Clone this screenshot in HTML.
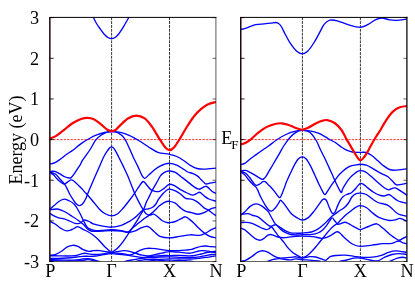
<!DOCTYPE html>
<html><head><meta charset="utf-8"><title>bands</title>
<style>
html,body{margin:0;padding:0;background:#fff;}
body{width:415px;height:291px;position:relative;overflow:hidden;font-family:"Liberation Serif",serif;color:#000;}
.t{position:absolute;white-space:nowrap;line-height:1;}
#lb{position:absolute;left:0;top:0;width:415px;height:291px;will-change:opacity;}
</style></head><body>
<svg width="415" height="291" viewBox="0 0 415 291" style="position:absolute;left:0;top:0"><clipPath id="cl"><rect x="49.80" y="17.30" width="166.10" height="243.90"/></clipPath><line x1="111.60" y1="17.30" x2="111.60" y2="261.20" stroke="#000" stroke-width="0.8" stroke-dasharray="2.9 0.95"/><line x1="169.50" y1="17.30" x2="169.50" y2="261.20" stroke="#000" stroke-width="0.8" stroke-dasharray="2.9 0.95"/><line x1="49.80" y1="139.60" x2="215.90" y2="139.60" stroke="#f00" stroke-width="0.8" stroke-dasharray="2.3 1.17"/><g clip-path="url(#cl)" fill="none" stroke-linecap="round" stroke-linejoin="round"><path d="M92.00 14.00 C92.22 14.55 92.55 15.72 93.30 17.30 C94.05 18.88 95.38 21.62 96.50 23.50 C97.62 25.38 98.75 26.85 100.00 28.60 C101.25 30.35 102.67 32.52 104.00 34.00 C105.33 35.48 106.73 36.73 108.00 37.50 C109.27 38.27 110.43 38.60 111.60 38.60 C112.77 38.60 113.85 38.23 115.00 37.50 C116.15 36.77 117.33 35.58 118.50 34.20 C119.67 32.82 121.00 30.73 122.00 29.20 C123.00 27.67 123.70 26.37 124.50 25.00 C125.30 23.63 126.07 22.28 126.80 21.00 C127.53 19.72 128.33 18.47 128.90 17.30 C129.47 16.13 129.98 14.55 130.20 14.00" stroke="#00f" stroke-width="1.35"/><path d="M49.80 164.00 C50.68 163.78 53.25 163.58 55.10 162.70 C56.95 161.82 58.97 160.10 60.90 158.70 C62.83 157.30 64.65 155.75 66.70 154.30 C68.75 152.85 70.80 151.78 73.20 150.00 C75.60 148.22 78.27 145.60 81.10 143.60 C83.93 141.60 87.48 139.48 90.20 138.00 C92.92 136.52 95.00 135.62 97.40 134.70 C99.80 133.78 102.23 133.02 104.60 132.50 C106.97 131.98 109.13 131.67 111.60 131.60 C114.07 131.53 116.48 131.48 119.40 132.10 C122.32 132.72 125.88 133.90 129.10 135.30 C132.32 136.70 135.50 138.58 138.70 140.50 C141.90 142.42 145.10 144.83 148.30 146.80 C151.50 148.77 154.37 151.05 157.90 152.30 C161.43 153.55 166.35 153.60 169.50 154.30 C172.65 155.00 174.38 155.42 176.80 156.50 C179.22 157.58 181.58 159.23 184.00 160.80 C186.42 162.37 189.13 164.62 191.30 165.90 C193.47 167.18 194.83 167.97 197.00 168.50 C199.17 169.03 201.15 169.17 204.30 169.10 C207.45 169.03 213.97 168.27 215.90 168.10" stroke="#00f" stroke-width="1.35"/><path d="M49.80 171.90 C50.78 172.28 54.08 173.10 55.70 174.20 C57.32 175.30 58.30 177.15 59.50 178.50 C60.70 179.85 62.02 181.42 62.90 182.30 C63.78 183.18 64.00 183.87 64.80 183.80 C65.60 183.73 66.78 182.52 67.70 181.90 C68.62 181.28 69.53 180.40 70.30 180.10 C71.07 179.80 71.52 179.80 72.30 180.10 C73.08 180.40 73.92 180.97 75.00 181.90 C76.08 182.83 77.52 184.42 78.80 185.70 C80.08 186.98 81.57 188.38 82.70 189.60 C83.83 190.82 84.90 192.22 85.60 193.00 C86.30 193.78 85.72 192.97 86.90 194.30 C88.08 195.63 90.53 198.43 92.70 201.00 C94.87 203.57 97.72 207.53 99.90 209.70 C102.08 211.87 103.85 212.98 105.80 214.00 C107.75 215.02 109.68 215.80 111.60 215.80 C113.52 215.80 115.38 215.27 117.30 214.00 C119.22 212.73 121.17 210.37 123.10 208.20 C125.03 206.03 126.97 203.52 128.90 201.00 C130.83 198.48 133.05 195.45 134.70 193.10 C136.35 190.75 137.38 188.83 138.80 186.90 C140.22 184.97 141.83 181.77 143.20 181.50 C144.57 181.23 145.73 183.95 147.00 185.30 C148.27 186.65 149.45 188.60 150.80 189.60 C152.15 190.60 153.65 191.02 155.10 191.30 C156.55 191.58 158.05 191.75 159.50 191.30 C160.95 190.85 162.55 189.52 163.80 188.60 C165.05 187.68 166.05 186.52 167.00 185.80 C167.95 185.08 168.35 184.37 169.50 184.30 C170.65 184.23 172.15 184.57 173.90 185.40 C175.65 186.23 178.18 188.23 180.00 189.30 C181.82 190.37 183.20 190.98 184.80 191.80 C186.40 192.62 188.23 193.65 189.60 194.20 C190.97 194.75 191.87 195.18 193.00 195.10 C194.13 195.02 195.35 194.18 196.40 193.70 C197.45 193.22 198.42 192.20 199.30 192.20 C200.18 192.20 200.73 192.97 201.70 193.70 C202.67 194.43 203.90 195.72 205.10 196.60 C206.30 197.48 207.10 198.23 208.90 199.00 C210.70 199.77 214.73 200.83 215.90 201.20" stroke="#00f" stroke-width="1.35"/><path d="M49.80 171.60 C50.62 171.55 53.08 170.95 54.70 171.30 C56.32 171.65 57.73 172.75 59.50 173.70 C61.27 174.65 63.67 176.28 65.30 177.00 C66.93 177.72 68.32 177.90 69.30 178.00 C70.28 178.10 70.42 178.23 71.20 177.60 C71.98 176.97 72.90 175.73 74.00 174.20 C75.10 172.67 76.75 170.00 77.80 168.40 C78.85 166.80 79.50 165.98 80.30 164.60 C81.10 163.22 81.02 162.53 82.60 160.10 C84.18 157.67 87.63 153.33 89.80 150.00 C91.97 146.67 93.73 142.57 95.60 140.10 C97.47 137.63 99.18 136.50 101.00 135.20 C102.82 133.90 104.73 132.90 106.50 132.30 C108.27 131.70 109.65 131.52 111.60 131.60 C113.55 131.68 116.10 131.72 118.20 132.80 C120.30 133.88 122.38 135.62 124.20 138.10 C126.02 140.58 127.58 144.52 129.10 147.70 C130.62 150.88 131.88 154.17 133.30 157.20 C134.72 160.23 136.17 162.88 137.60 165.90 C139.03 168.92 140.70 173.23 141.90 175.30 C143.10 177.37 143.58 178.42 144.80 178.30 C146.02 178.18 147.52 176.07 149.20 174.60 C150.88 173.13 153.10 170.90 154.90 169.50 C156.70 168.10 158.52 167.03 160.00 166.20 C161.48 165.37 162.20 164.98 163.80 164.50 C165.40 164.02 167.43 163.18 169.60 163.30 C171.77 163.42 174.40 164.17 176.80 165.20 C179.20 166.23 182.18 168.37 184.00 169.50 C185.82 170.63 186.28 171.35 187.70 172.00 C189.12 172.65 190.90 172.75 192.50 173.40 C194.10 174.05 195.85 174.85 197.30 175.90 C198.75 176.95 200.07 178.58 201.20 179.70 C202.33 180.82 203.22 181.88 204.10 182.60 C204.98 183.32 205.53 183.92 206.50 184.00 C207.47 184.08 208.33 183.42 209.90 183.10 C211.47 182.78 214.90 182.27 215.90 182.10" stroke="#00f" stroke-width="1.35"/><path d="M49.80 172.40 C50.45 172.85 52.40 173.92 53.70 175.10 C55.00 176.28 56.30 178.22 57.60 179.50 C58.90 180.78 60.30 181.95 61.50 182.80 C62.70 183.65 63.92 183.72 64.80 184.60 C65.68 185.48 65.90 186.37 66.80 188.10 C67.70 189.83 69.18 193.13 70.20 195.00 C71.22 196.87 71.90 197.85 72.90 199.30 C73.90 200.75 75.12 202.65 76.20 203.70 C77.28 204.75 78.32 205.60 79.40 205.60 C80.48 205.60 81.60 204.92 82.70 203.70 C83.80 202.48 85.05 200.27 86.00 198.30 C86.95 196.33 86.07 197.42 88.40 191.90 C90.73 186.38 97.35 171.22 100.00 165.20 C102.65 159.18 102.97 158.33 104.30 155.80 C105.63 153.27 107.05 151.37 108.00 150.00 C108.95 148.63 109.40 148.13 110.00 147.60 C110.60 147.07 111.07 146.80 111.60 146.80 C112.13 146.80 112.50 146.85 113.20 147.60 C113.90 148.35 114.87 149.70 115.80 151.30 C116.73 152.90 117.58 154.77 118.80 157.20 C120.02 159.63 121.65 162.88 123.10 165.90 C124.55 168.92 126.13 172.15 127.50 175.30 C128.87 178.45 130.13 181.87 131.30 184.80 C132.47 187.73 133.42 190.38 134.50 192.90 C135.58 195.42 136.72 197.72 137.80 199.90 C138.88 202.08 140.07 204.33 141.00 206.00 C141.93 207.67 142.55 208.62 143.40 209.90 C144.25 211.18 145.02 212.83 146.10 213.70 C147.18 214.57 148.63 215.02 149.90 215.10 C151.17 215.18 152.35 213.88 153.70 214.20 C155.05 214.52 156.55 215.90 158.00 217.00 C159.45 218.10 160.95 219.90 162.40 220.80 C163.85 221.70 165.50 222.08 166.70 222.40 C167.90 222.72 168.17 222.85 169.60 222.70 C171.03 222.55 173.38 222.18 175.30 221.50 C177.22 220.82 179.40 219.38 181.10 218.60 C182.80 217.82 184.05 216.63 185.50 216.80 C186.95 216.97 188.38 218.52 189.80 219.60 C191.22 220.68 192.67 222.02 194.00 223.30 C195.33 224.58 196.17 225.75 197.80 227.30 C199.43 228.85 201.78 231.08 203.80 232.60 C205.82 234.12 207.88 235.52 209.90 236.40 C211.92 237.28 214.90 237.65 215.90 237.90" stroke="#00f" stroke-width="1.35"/><path d="M49.80 209.30 C50.58 208.63 53.00 206.60 54.50 205.30 C56.00 204.00 57.17 202.52 58.80 201.50 C60.43 200.48 62.48 199.28 64.30 199.20 C66.12 199.12 68.08 200.20 69.70 201.00 C71.32 201.80 72.73 202.75 74.00 204.00 C75.27 205.25 76.22 206.75 77.30 208.50 C78.38 210.25 79.52 212.58 80.50 214.50 C81.48 216.42 82.38 218.37 83.20 220.00 C84.02 221.63 84.53 222.92 85.40 224.30 C86.27 225.68 86.93 227.30 88.40 228.30 C89.87 229.30 92.02 229.93 94.20 230.30 C96.38 230.67 98.62 230.60 101.50 230.50 C104.38 230.40 108.20 229.68 111.50 229.70 C114.80 229.72 118.57 230.22 121.30 230.60 C124.03 230.98 126.12 232.33 127.90 232.00 C129.68 231.67 130.42 229.93 132.00 228.60 C133.58 227.27 135.60 225.48 137.40 224.00 C139.20 222.52 140.98 221.05 142.80 219.70 C144.62 218.35 146.48 217.25 148.30 215.90 C150.12 214.55 151.90 213.23 153.70 211.60 C155.50 209.97 157.30 207.65 159.10 206.10 C160.90 204.55 162.75 203.10 164.50 202.30 C166.25 201.50 167.80 201.15 169.60 201.30 C171.40 201.45 173.57 202.18 175.30 203.20 C177.03 204.22 178.42 206.13 180.00 207.40 C181.58 208.67 182.87 209.92 184.80 210.80 C186.73 211.68 189.35 212.13 191.60 212.70 C193.85 213.27 196.22 214.20 198.30 214.20 C200.38 214.20 202.48 213.35 204.10 212.70 C205.72 212.05 206.72 211.02 208.00 210.30 C209.28 209.58 210.48 208.88 211.80 208.40 C213.12 207.92 215.22 207.57 215.90 207.40" stroke="#00f" stroke-width="1.35"/><path d="M49.80 209.80 C50.95 209.67 54.67 208.88 56.70 209.00 C58.73 209.12 60.57 210.00 62.00 210.50 C63.43 211.00 63.65 211.05 65.30 212.00 C66.95 212.95 69.72 214.78 71.90 216.20 C74.08 217.62 76.42 219.07 78.40 220.50 C80.38 221.93 82.28 223.38 83.80 224.80 C85.32 226.22 86.30 227.97 87.50 229.00 C88.70 230.03 89.77 230.60 91.00 231.00 C92.23 231.40 93.15 231.37 94.90 231.40 C96.65 231.43 98.73 231.35 101.50 231.20 C104.27 231.05 108.20 230.50 111.50 230.50 C114.80 230.50 118.57 230.87 121.30 231.20 C124.03 231.53 125.72 232.50 127.90 232.50 C130.08 232.50 132.22 231.97 134.40 231.20 C136.58 230.43 139.07 228.72 141.00 227.90 C142.93 227.08 144.62 226.40 146.00 226.30 C147.38 226.20 147.97 226.43 149.30 227.30 C150.63 228.17 152.22 229.98 154.00 231.50 C155.78 233.02 157.42 235.33 160.00 236.40 C162.58 237.47 166.23 237.90 169.50 237.90 C172.77 237.90 176.15 236.92 179.60 236.40 C183.05 235.88 186.92 234.98 190.20 234.80 C193.48 234.62 196.78 235.55 199.30 235.30 C201.82 235.05 203.28 234.25 205.30 233.30 C207.32 232.35 209.63 230.53 211.40 229.60 C213.17 228.67 215.15 228.02 215.90 227.70" stroke="#00f" stroke-width="1.35"/><path d="M49.80 213.30 C50.58 213.77 53.00 215.35 54.50 216.10 C56.00 216.85 57.17 217.33 58.80 217.80 C60.43 218.27 62.48 218.37 64.30 218.90 C66.12 219.43 67.90 220.25 69.70 221.00 C71.50 221.75 73.48 223.00 75.10 223.40 C76.72 223.80 78.13 223.80 79.40 223.40 C80.67 223.00 81.78 221.57 82.70 221.00 C83.62 220.43 83.82 219.92 84.90 220.00 C85.98 220.08 87.82 220.87 89.20 221.50 C90.58 222.13 91.15 223.07 93.20 223.80 C95.25 224.53 98.45 225.33 101.50 225.90 C104.55 226.47 108.20 227.28 111.50 227.20 C114.80 227.12 118.30 226.38 121.30 225.40 C124.30 224.42 127.32 222.53 129.50 221.30 C131.68 220.07 132.90 219.17 134.40 218.00 C135.90 216.83 137.00 215.65 138.50 214.30 C140.00 212.95 141.77 210.82 143.40 209.90 C145.03 208.98 146.77 209.25 148.30 208.80 C149.83 208.35 151.33 208.00 152.60 207.20 C153.87 206.40 154.90 205.35 155.90 204.00 C156.90 202.65 157.47 200.77 158.60 199.10 C159.73 197.43 161.47 195.40 162.70 194.00 C163.93 192.60 164.87 191.50 166.00 190.70 C167.13 189.90 167.95 189.17 169.50 189.20 C171.05 189.23 173.37 190.02 175.30 190.90 C177.23 191.78 179.35 193.27 181.10 194.50 C182.85 195.73 183.90 197.50 185.80 198.30 C187.70 199.10 190.42 198.58 192.50 199.30 C194.58 200.02 196.37 201.17 198.30 202.60 C200.23 204.03 202.48 206.68 204.10 207.90 C205.72 209.12 206.72 209.10 208.00 209.90 C209.28 210.70 210.48 211.75 211.80 212.70 C213.12 213.65 215.22 215.12 215.90 215.60" stroke="#00f" stroke-width="1.35"/><path d="M49.80 221.30 C50.68 221.75 53.25 222.83 55.10 224.00 C56.95 225.17 58.97 227.15 60.90 228.30 C62.83 229.45 64.85 230.70 66.70 230.90 C68.55 231.10 70.55 230.05 72.00 229.50 C73.45 228.95 74.48 228.08 75.40 227.60 C76.32 227.12 76.73 226.62 77.50 226.60 C78.27 226.58 79.15 227.08 80.00 227.50 C80.85 227.92 81.20 228.35 82.60 229.10 C84.00 229.85 86.72 231.05 88.40 232.00 C90.08 232.95 91.07 233.57 92.70 234.80 C94.33 236.03 96.18 237.40 98.20 239.40 C100.22 241.40 102.88 244.87 104.80 246.80 C106.72 248.73 108.58 250.12 109.70 251.00 C110.82 251.88 110.82 252.10 111.50 252.10 C112.18 252.10 112.72 251.73 113.80 251.00 C114.88 250.27 116.48 249.22 118.00 247.70 C119.52 246.18 121.25 244.10 122.90 241.90 C124.55 239.70 126.25 236.97 127.90 234.50 C129.55 232.03 131.40 229.20 132.80 227.10 C134.20 225.00 135.17 223.68 136.30 221.90 C137.43 220.12 138.42 218.40 139.60 216.40 C140.78 214.40 142.27 212.28 143.40 209.90 C144.53 207.52 145.35 204.48 146.40 202.10 C147.45 199.72 148.62 197.77 149.70 195.60 C150.78 193.43 151.63 191.45 152.90 189.10 C154.17 186.75 156.12 183.60 157.30 181.50 C158.48 179.40 159.17 177.77 160.00 176.50 C160.83 175.23 161.18 174.75 162.30 173.90 C163.42 173.05 165.48 171.88 166.70 171.40 C167.92 170.92 168.17 170.83 169.60 171.00 C171.03 171.17 173.38 171.45 175.30 172.40 C177.22 173.35 179.17 175.25 181.10 176.70 C183.03 178.15 184.73 179.40 186.90 181.10 C189.07 182.80 192.12 185.55 194.10 186.90 C196.08 188.25 197.45 189.03 198.80 189.20 C200.15 189.37 201.08 188.38 202.20 187.90 C203.32 187.42 204.53 186.38 205.50 186.30 C206.47 186.22 207.12 186.73 208.00 187.40 C208.88 188.07 209.85 189.47 210.80 190.30 C211.75 191.13 212.85 191.92 213.70 192.40 C214.55 192.88 215.53 193.07 215.90 193.20" stroke="#00f" stroke-width="1.35"/><path d="M49.80 255.40 C50.78 255.23 53.75 255.10 55.70 254.40 C57.65 253.70 59.57 252.45 61.50 251.20 C63.43 249.95 65.45 247.88 67.30 246.90 C69.15 245.92 70.83 245.38 72.60 245.30 C74.37 245.22 76.22 245.73 77.90 246.40 C79.58 247.07 80.88 248.48 82.70 249.30 C84.52 250.12 86.98 251.07 88.80 251.30 C90.62 251.53 91.83 250.82 93.60 250.70 C95.37 250.58 97.30 250.43 99.40 250.60 C101.50 250.77 104.15 251.38 106.20 251.70 C108.25 252.02 109.93 252.50 111.70 252.50 C113.47 252.50 114.75 252.00 116.80 251.70 C118.85 251.40 121.87 250.77 124.00 250.70 C126.13 250.63 127.70 250.88 129.60 251.30 C131.50 251.72 133.30 252.55 135.40 253.20 C137.50 253.85 139.95 254.77 142.20 255.20 C144.45 255.63 146.82 255.90 148.90 255.80 C150.98 255.70 152.85 254.98 154.70 254.60 C156.55 254.22 158.37 253.85 160.00 253.50 C161.63 253.15 162.90 252.82 164.50 252.50 C166.10 252.18 167.20 251.65 169.60 251.60 C172.00 251.55 175.50 251.93 178.90 252.20 C182.30 252.47 187.08 253.30 190.00 253.20 C192.92 253.10 194.53 252.03 196.40 251.60 C198.27 251.17 199.60 250.73 201.20 250.60 C202.80 250.47 204.40 250.63 206.00 250.80 C207.60 250.97 209.15 251.50 210.80 251.60 C212.45 251.70 215.05 251.43 215.90 251.40" stroke="#00f" stroke-width="1.35"/><path d="M49.90 255.80 C51.18 255.80 54.70 255.77 57.60 255.80 C60.50 255.83 64.40 256.03 67.30 256.00 C70.20 255.97 72.75 255.92 75.00 255.60 C77.25 255.28 79.20 254.50 80.80 254.10 C82.40 253.70 83.10 253.20 84.60 253.20 C86.10 253.20 87.97 253.90 89.80 254.10 C91.63 254.30 93.68 254.40 95.60 254.40 C97.52 254.40 99.38 254.30 101.30 254.10 C103.22 253.90 105.37 253.43 107.10 253.20 C108.83 252.97 110.08 252.70 111.70 252.70 C113.32 252.70 114.75 253.02 116.80 253.20 C118.85 253.38 122.13 253.53 124.00 253.80 C125.87 254.07 126.75 254.67 128.00 254.80 C129.25 254.93 130.42 254.83 131.50 254.60 C132.58 254.37 133.20 254.05 134.50 253.40 C135.80 252.75 137.53 251.50 139.30 250.70 C141.07 249.90 143.18 249.00 145.10 248.60 C147.02 248.20 149.02 248.30 150.80 248.30 C152.58 248.30 154.00 248.38 155.80 248.60 C157.60 248.82 159.30 249.27 161.60 249.60 C163.90 249.93 166.72 250.43 169.60 250.60 C172.48 250.77 176.20 250.68 178.90 250.60 C181.60 250.52 183.68 250.30 185.80 250.10 C187.92 249.90 189.83 249.80 191.60 249.40 C193.37 249.00 194.80 248.22 196.40 247.70 C198.00 247.18 199.60 246.58 201.20 246.30 C202.80 246.02 204.40 245.95 206.00 246.00 C207.60 246.05 209.15 246.45 210.80 246.60 C212.45 246.75 215.05 246.85 215.90 246.90" stroke="#00f" stroke-width="1.35"/><path d="M49.90 258.50 C51.18 258.50 54.70 258.58 57.60 258.50 C60.50 258.42 64.08 258.25 67.30 258.00 C70.52 257.75 74.33 257.28 76.90 257.00 C79.47 256.72 80.55 256.42 82.70 256.30 C84.85 256.18 87.65 256.35 89.80 256.30 C91.95 256.25 93.68 256.20 95.60 256.00 C97.52 255.80 99.38 255.42 101.30 255.10 C103.22 254.78 105.37 254.35 107.10 254.10 C108.83 253.85 110.08 253.60 111.70 253.60 C113.32 253.60 114.75 253.90 116.80 254.10 C118.85 254.30 121.80 254.55 124.00 254.80 C126.20 255.05 128.00 255.30 130.00 255.60 C132.00 255.90 133.83 256.28 136.00 256.60 C138.17 256.92 140.67 257.52 143.00 257.50 C145.33 257.48 147.55 256.78 150.00 256.50 C152.45 256.22 155.28 255.97 157.70 255.80 C160.12 255.63 162.52 255.53 164.50 255.50 C166.48 255.47 167.02 255.62 169.60 255.60 C172.18 255.58 176.67 255.35 180.00 255.40 C183.33 255.45 187.03 255.90 189.60 255.90 C192.17 255.90 193.47 255.72 195.40 255.40 C197.33 255.08 199.27 254.48 201.20 254.00 C203.13 253.52 205.40 252.83 207.00 252.50 C208.60 252.17 209.32 252.00 210.80 252.00 C212.28 252.00 215.05 252.42 215.90 252.50" stroke="#00f" stroke-width="1.35"/><path d="M49.90 259.60 C52.80 259.70 62.80 260.15 67.30 260.20 C71.80 260.25 74.33 260.12 76.90 259.90 C79.47 259.68 80.87 259.10 82.70 258.90 C84.53 258.70 86.40 258.65 87.90 258.70 C89.40 258.75 90.42 258.92 91.70 259.20 C92.98 259.48 94.23 260.00 95.60 260.40 C96.97 260.80 98.83 261.20 99.90 261.60 C100.97 262.00 101.65 262.60 102.00 262.80" stroke="#00f" stroke-width="1.35"/><path d="M132.00 262.60 C133.00 262.30 136.00 261.27 138.00 260.80 C140.00 260.33 142.00 260.05 144.00 259.80 C146.00 259.55 147.33 259.38 150.00 259.30 C152.67 259.22 156.73 259.35 160.00 259.30 C163.27 259.25 166.27 259.08 169.60 259.00 C172.93 258.92 176.60 258.80 180.00 258.80 C183.40 258.80 186.78 259.08 190.00 259.00 C193.22 258.92 196.47 258.58 199.30 258.30 C202.13 258.02 204.75 257.62 207.00 257.30 C209.25 256.98 211.32 256.63 212.80 256.40 C214.28 256.17 215.38 255.98 215.90 255.90" stroke="#00f" stroke-width="1.35"/><path d="M49.90 260.60 C52.00 260.70 57.52 261.20 62.50 261.20 C67.48 261.20 75.55 260.87 79.80 260.60 C84.05 260.33 85.80 259.63 88.00 259.60 C90.20 259.57 91.67 260.07 93.00 260.40 C94.33 260.73 95.17 261.20 96.00 261.60 C96.83 262.00 97.67 262.60 98.00 262.80" stroke="#00f" stroke-width="1.35"/><path d="M140.00 262.80 C141.67 262.48 147.17 261.33 150.00 260.90 C152.83 260.47 154.83 260.23 157.00 260.20 C159.17 260.17 160.90 260.58 163.00 260.70 C165.10 260.82 167.43 260.92 169.60 260.90 C171.77 260.88 174.27 260.70 176.00 260.60 C177.73 260.50 178.37 260.28 180.00 260.30 C181.63 260.32 183.72 260.52 185.80 260.70 C187.88 260.88 190.80 261.08 192.50 261.40 C194.20 261.72 195.42 262.40 196.00 262.60" stroke="#00f" stroke-width="1.35"/><path d="M122.00 262.60 C122.67 262.37 124.33 261.63 126.00 261.20 C127.67 260.77 130.00 260.38 132.00 260.00 C134.00 259.62 136.00 259.23 138.00 258.90 C140.00 258.57 142.00 258.23 144.00 258.00 C146.00 257.77 147.33 257.67 150.00 257.50 C152.67 257.33 156.73 257.10 160.00 257.00 C163.27 256.90 166.27 256.85 169.60 256.90 C172.93 256.95 176.67 257.20 180.00 257.30 C183.33 257.40 186.38 257.57 189.60 257.50 C192.82 257.43 196.40 257.25 199.30 256.90 C202.20 256.55 204.75 255.80 207.00 255.40 C209.25 255.00 211.32 254.68 212.80 254.50 C214.28 254.32 215.38 254.33 215.90 254.30" stroke="#00f" stroke-width="1.35"/><path d="M49.80 138.50 C50.80 138.10 53.58 137.40 55.80 136.10 C58.02 134.80 60.38 132.80 63.10 130.70 C65.82 128.60 69.10 125.45 72.10 123.50 C75.10 121.55 78.53 119.93 81.10 119.00 C83.67 118.07 85.38 117.87 87.50 117.90 C89.62 117.93 91.55 118.12 93.80 119.20 C96.05 120.28 98.73 122.63 101.00 124.40 C103.27 126.17 105.65 128.68 107.40 129.80 C109.15 130.92 110.15 131.07 111.50 131.10 C112.85 131.13 114.18 130.83 115.50 130.00 C116.82 129.17 117.33 128.02 119.40 126.10 C121.47 124.18 125.08 120.25 127.90 118.50 C130.72 116.75 133.50 115.62 136.30 115.60 C139.10 115.58 142.10 116.55 144.70 118.40 C147.30 120.25 149.50 123.38 151.90 126.70 C154.30 130.02 156.90 134.87 159.10 138.30 C161.30 141.73 163.37 145.32 165.10 147.30 C166.83 149.28 167.95 150.27 169.50 150.20 C171.05 150.13 172.58 148.95 174.40 146.90 C176.22 144.85 178.38 141.13 180.40 137.90 C182.42 134.67 184.28 131.02 186.50 127.50 C188.72 123.98 191.30 119.85 193.70 116.80 C196.10 113.75 198.50 111.30 200.90 109.20 C203.30 107.10 205.60 105.40 208.10 104.20 C210.60 103.00 214.60 102.37 215.90 102.00" stroke="#f00" stroke-width="2.2"/></g><path d="M49.80 17.40 H215.90" fill="none" stroke="#000" stroke-width="1.0" stroke-linecap="square"/><path d="M49.85 261.90 V16.90" fill="none" stroke="#1c0a0a" stroke-width="1.5" stroke-linecap="butt"/><path d="M215.90 17.40 V261.40" fill="none" stroke="#000" stroke-opacity="0.62" stroke-width="1.05" stroke-linecap="square"/><path d="M215.90 261.40 H49.80" fill="none" stroke="#000" stroke-opacity="0.62" stroke-width="1.05" stroke-linecap="square"/><line x1="49.80" y1="261.55" x2="53.70" y2="261.55" stroke="#000" stroke-width="0.85"/><line x1="215.90" y1="261.55" x2="212.50" y2="261.55" stroke="#000" stroke-opacity="0.7" stroke-width="0.85"/><line x1="49.80" y1="220.90" x2="53.70" y2="220.90" stroke="#000" stroke-width="0.85"/><line x1="215.90" y1="220.90" x2="212.50" y2="220.90" stroke="#000" stroke-opacity="0.7" stroke-width="0.85"/><line x1="49.80" y1="180.25" x2="53.70" y2="180.25" stroke="#000" stroke-width="0.85"/><line x1="215.90" y1="180.25" x2="212.50" y2="180.25" stroke="#000" stroke-opacity="0.7" stroke-width="0.85"/><line x1="49.80" y1="139.60" x2="53.70" y2="139.60" stroke="#000" stroke-width="0.85"/><line x1="215.90" y1="139.60" x2="212.50" y2="139.60" stroke="#000" stroke-opacity="0.7" stroke-width="0.85"/><line x1="49.80" y1="98.95" x2="53.70" y2="98.95" stroke="#000" stroke-width="0.85"/><line x1="215.90" y1="98.95" x2="212.50" y2="98.95" stroke="#000" stroke-opacity="0.7" stroke-width="0.85"/><line x1="49.80" y1="58.30" x2="53.70" y2="58.30" stroke="#000" stroke-width="0.85"/><line x1="215.90" y1="58.30" x2="212.50" y2="58.30" stroke="#000" stroke-opacity="0.7" stroke-width="0.85"/><line x1="49.80" y1="17.65" x2="53.70" y2="17.65" stroke="#000" stroke-width="0.85"/><line x1="215.90" y1="17.65" x2="212.50" y2="17.65" stroke="#000" stroke-opacity="0.7" stroke-width="0.85"/><clipPath id="cr"><rect x="240.70" y="17.30" width="166.10" height="243.90"/></clipPath><line x1="302.40" y1="17.30" x2="302.40" y2="261.20" stroke="#000" stroke-width="0.8" stroke-dasharray="2.9 0.95"/><line x1="360.40" y1="17.30" x2="360.40" y2="261.20" stroke="#000" stroke-width="0.8" stroke-dasharray="2.9 0.95"/><line x1="240.70" y1="139.60" x2="406.80" y2="139.60" stroke="#f00" stroke-width="0.8" stroke-dasharray="2.3 1.17"/><g clip-path="url(#cr)" fill="none" stroke-linecap="round" stroke-linejoin="round"><path d="M240.80 29.50 C241.80 29.22 244.35 28.60 246.80 27.80 C249.25 27.00 252.60 25.35 255.50 24.70 C258.40 24.05 261.67 24.15 264.20 23.90 C266.73 23.65 268.85 23.43 270.70 23.20 C272.55 22.97 274.03 22.50 275.30 22.50 C276.57 22.50 277.30 22.53 278.30 23.20 C279.30 23.87 280.15 24.67 281.30 26.50 C282.45 28.33 283.72 31.42 285.20 34.20 C286.68 36.98 288.28 40.37 290.20 43.20 C292.12 46.03 294.67 49.43 296.70 51.20 C298.73 52.97 300.58 53.80 302.40 53.80 C304.22 53.80 305.65 53.08 307.60 51.20 C309.55 49.32 311.93 45.93 314.10 42.50 C316.27 39.07 318.90 33.67 320.60 30.60 C322.30 27.53 322.77 25.83 324.30 24.10 C325.83 22.37 327.63 20.75 329.80 20.20 C331.97 19.65 334.23 20.05 337.30 20.80 C340.37 21.55 344.40 23.62 348.20 24.70 C352.00 25.78 356.85 27.30 360.10 27.30 C363.35 27.30 365.17 25.95 367.70 24.70 C370.23 23.45 372.95 20.92 375.30 19.80 C377.65 18.68 379.45 18.00 381.80 18.00 C384.15 18.00 387.05 19.40 389.40 19.80 C391.75 20.20 393.00 20.52 395.90 20.40 C398.80 20.28 404.98 19.32 406.80 19.10" stroke="#00f" stroke-width="1.35"/><path d="M240.80 164.50 C241.45 164.30 243.08 164.27 244.70 163.30 C246.32 162.33 248.58 160.15 250.50 158.70 C252.42 157.25 254.17 156.05 256.20 154.60 C258.23 153.15 260.65 151.43 262.70 150.00 C264.75 148.57 266.08 147.75 268.50 146.00 C270.92 144.25 274.30 141.42 277.20 139.50 C280.10 137.58 283.00 135.85 285.90 134.50 C288.80 133.15 291.85 132.08 294.60 131.40 C297.35 130.72 299.88 130.50 302.40 130.40 C304.92 130.30 307.03 130.33 309.70 130.80 C312.37 131.27 315.68 132.13 318.40 133.20 C321.12 134.27 324.27 136.22 326.00 137.20 C327.73 138.18 327.30 138.25 328.80 139.10 C330.30 139.95 333.00 141.05 335.00 142.30 C337.00 143.55 338.87 145.28 340.80 146.60 C342.73 147.92 344.68 149.30 346.60 150.20 C348.52 151.10 350.38 151.63 352.30 152.00 C354.22 152.37 355.80 152.32 358.10 152.40 C360.40 152.48 363.77 151.93 366.10 152.50 C368.43 153.07 370.13 154.42 372.10 155.80 C374.07 157.18 375.97 159.12 377.90 160.80 C379.83 162.48 381.77 164.45 383.70 165.90 C385.63 167.35 387.57 168.78 389.50 169.50 C391.43 170.22 392.42 170.32 395.30 170.20 C398.18 170.08 404.88 169.03 406.80 168.80" stroke="#00f" stroke-width="1.35"/><path d="M240.80 170.90 C241.62 170.82 244.08 170.10 245.70 170.40 C247.32 170.70 248.57 171.67 250.50 172.70 C252.43 173.73 255.52 175.58 257.30 176.60 C259.08 177.62 260.32 178.33 261.20 178.80 C262.08 179.27 262.13 179.45 262.60 179.40 C263.07 179.35 263.43 179.00 264.00 178.50 C264.57 178.00 265.03 177.85 266.00 176.40 C266.97 174.95 268.68 171.70 269.80 169.80 C270.92 167.90 271.10 167.70 272.70 165.00 C274.30 162.30 277.57 156.77 279.40 153.60 C281.23 150.43 281.90 148.72 283.70 146.00 C285.50 143.28 288.03 139.65 290.20 137.30 C292.37 134.95 294.67 133.05 296.70 131.90 C298.73 130.75 300.23 130.33 302.40 130.40 C304.57 130.47 307.40 130.62 309.70 132.30 C312.00 133.98 314.38 137.55 316.20 140.50 C318.02 143.45 319.13 146.97 320.60 150.00 C322.07 153.03 323.55 155.68 325.00 158.70 C326.45 161.72 327.98 165.22 329.30 168.10 C330.62 170.98 331.70 173.35 332.90 176.00 C334.10 178.65 335.28 181.47 336.50 184.00 C337.72 186.53 339.35 189.82 340.20 191.20 C341.05 192.58 341.13 192.78 341.60 192.30 C342.07 191.82 342.03 190.17 343.00 188.30 C343.97 186.43 346.07 183.03 347.40 181.10 C348.73 179.17 350.02 177.78 351.00 176.70 C351.98 175.62 352.18 175.48 353.30 174.60 C354.42 173.72 356.52 172.05 357.70 171.40 C358.88 170.75 359.20 170.65 360.40 170.70 C361.60 170.75 363.18 170.82 364.90 171.70 C366.62 172.58 368.53 174.20 370.70 176.00 C372.87 177.80 375.50 180.45 377.90 182.50 C380.30 184.55 383.28 187.08 385.10 188.30 C386.92 189.52 387.58 189.80 388.80 189.80 C390.02 189.80 391.32 188.62 392.40 188.30 C393.48 187.98 394.22 187.65 395.30 187.90 C396.38 188.15 397.47 188.93 398.90 189.80 C400.33 190.67 402.58 192.20 403.90 193.10 C405.22 194.00 406.32 194.85 406.80 195.20" stroke="#00f" stroke-width="1.35"/><path d="M240.80 171.50 C241.62 171.78 244.23 172.20 245.70 173.20 C247.17 174.20 248.32 175.90 249.60 177.50 C250.88 179.10 252.28 181.48 253.40 182.80 C254.52 184.12 255.25 185.20 256.30 185.40 C257.35 185.60 258.62 184.62 259.70 184.00 C260.78 183.38 261.83 182.07 262.80 181.70 C263.77 181.33 264.50 181.20 265.50 181.80 C266.50 182.40 267.93 184.43 268.80 185.30 C269.67 186.17 269.78 186.02 270.70 187.00 C271.62 187.98 273.17 189.78 274.30 191.20 C275.43 192.62 276.53 194.47 277.50 195.50 C278.47 196.53 279.10 198.32 280.10 197.40 C281.10 196.48 282.42 192.63 283.50 190.00 C284.58 187.37 285.37 184.57 286.60 181.60 C287.83 178.63 289.57 175.02 290.90 172.20 C292.23 169.38 293.38 166.90 294.60 164.70 C295.82 162.50 296.90 160.32 298.20 159.00 C299.50 157.68 301.07 156.80 302.40 156.80 C303.73 156.80 304.85 157.48 306.20 159.00 C307.55 160.52 309.05 163.18 310.50 165.90 C311.95 168.62 313.45 172.17 314.90 175.30 C316.35 178.43 317.88 181.93 319.20 184.70 C320.52 187.47 321.83 190.27 322.80 191.90 C323.77 193.53 324.28 194.50 325.00 194.50 C325.72 194.50 326.13 193.30 327.10 191.90 C328.07 190.50 329.58 187.90 330.80 186.10 C332.02 184.30 333.08 182.90 334.40 181.10 C335.72 179.30 337.27 176.98 338.70 175.30 C340.13 173.62 341.55 172.28 343.00 171.00 C344.45 169.72 346.07 168.45 347.40 167.60 C348.73 166.75 349.77 166.30 351.00 165.90 C352.23 165.50 353.23 165.48 354.80 165.20 C356.37 164.92 358.48 164.20 360.40 164.20 C362.32 164.20 364.35 164.55 366.30 165.20 C368.25 165.85 370.17 167.02 372.10 168.10 C374.03 169.18 375.97 170.62 377.90 171.70 C379.83 172.78 382.02 173.77 383.70 174.60 C385.38 175.43 386.55 175.62 388.00 176.70 C389.45 177.78 391.07 179.77 392.40 181.10 C393.73 182.43 394.80 184.10 396.00 184.70 C397.20 185.30 397.80 184.93 399.60 184.70 C401.40 184.47 405.60 183.53 406.80 183.30" stroke="#00f" stroke-width="1.35"/><path d="M240.80 172.20 C241.45 172.63 243.40 173.55 244.70 174.80 C246.00 176.05 247.30 178.17 248.60 179.70 C249.90 181.23 251.30 182.80 252.50 184.00 C253.70 185.20 254.92 185.88 255.80 186.90 C256.68 187.92 257.28 189.08 257.80 190.10 C258.32 191.12 258.43 191.90 258.90 193.00 C259.37 194.10 259.60 194.77 260.60 196.70 C261.60 198.63 263.58 202.43 264.90 204.60 C266.22 206.77 267.42 208.62 268.50 209.70 C269.58 210.78 270.32 211.35 271.40 211.10 C272.48 210.85 273.80 209.52 275.00 208.20 C276.20 206.88 277.63 204.52 278.60 203.20 C279.57 201.88 279.70 199.95 280.80 200.30 C281.90 200.65 283.52 203.13 285.20 205.30 C286.88 207.47 288.97 211.25 290.90 213.30 C292.83 215.35 294.88 216.47 296.80 217.60 C298.72 218.73 300.48 220.10 302.40 220.10 C304.32 220.10 306.35 219.10 308.30 217.60 C310.25 216.10 312.17 213.50 314.10 211.10 C316.03 208.70 318.42 205.17 319.90 203.20 C321.38 201.23 321.93 199.80 323.00 199.30 C324.07 198.80 325.30 198.97 326.30 200.20 C327.30 201.43 328.00 204.53 329.00 206.70 C330.00 208.87 331.30 212.30 332.30 213.20 C333.30 214.10 334.10 213.37 335.00 212.10 C335.90 210.83 336.80 207.58 337.70 205.60 C338.60 203.62 339.52 201.68 340.40 200.20 C341.28 198.72 341.95 197.65 343.00 196.70 C344.05 195.75 345.37 195.12 346.70 194.50 C348.03 193.88 349.90 193.60 351.00 193.00 C352.10 192.40 352.43 191.73 353.30 190.90 C354.17 190.07 355.50 188.80 356.20 188.00 C356.90 187.20 356.80 186.85 357.50 186.10 C358.20 185.35 359.40 183.78 360.40 183.50 C361.40 183.22 362.27 183.67 363.50 184.40 C364.73 185.13 366.12 186.58 367.80 187.90 C369.48 189.22 371.67 191.08 373.60 192.30 C375.53 193.52 377.60 194.58 379.40 195.20 C381.20 195.82 382.83 196.12 384.40 196.00 C385.97 195.88 387.47 194.38 388.80 194.50 C390.13 194.62 390.83 195.62 392.40 196.70 C393.97 197.78 395.80 199.92 398.20 201.00 C400.60 202.08 405.37 202.83 406.80 203.20" stroke="#00f" stroke-width="1.35"/><path d="M240.80 214.70 C241.45 214.23 243.08 213.33 244.70 211.90 C246.32 210.47 248.58 207.43 250.50 206.10 C252.42 204.77 254.28 203.90 256.20 203.90 C258.12 203.90 260.18 205.02 262.00 206.10 C263.82 207.18 265.97 209.33 267.10 210.40 C268.23 211.47 267.97 211.15 268.80 212.50 C269.63 213.85 271.02 216.60 272.10 218.50 C273.18 220.40 274.03 222.48 275.30 223.90 C276.57 225.32 278.07 225.87 279.70 227.00 C281.33 228.13 283.30 229.73 285.10 230.70 C286.90 231.67 288.70 232.38 290.50 232.80 C292.30 233.22 293.92 233.17 295.90 233.20 C297.88 233.23 299.82 233.20 302.40 233.00 C304.98 232.80 308.83 232.63 311.40 232.00 C313.97 231.37 315.77 230.43 317.80 229.20 C319.83 227.97 321.83 226.17 323.60 224.60 C325.37 223.03 326.97 221.25 328.40 219.80 C329.83 218.35 331.02 216.92 332.20 215.90 C333.38 214.88 334.22 214.60 335.50 213.70 C336.78 212.80 338.45 211.48 339.90 210.50 C341.35 209.52 342.77 209.05 344.20 207.80 C345.63 206.55 347.22 204.80 348.50 203.00 C349.78 201.20 350.62 198.55 351.90 197.00 C353.18 195.45 354.78 194.35 356.20 193.70 C357.62 193.05 358.72 192.97 360.40 193.10 C362.08 193.23 364.35 193.55 366.30 194.50 C368.25 195.45 370.17 197.47 372.10 198.80 C374.03 200.13 375.97 201.65 377.90 202.50 C379.83 203.35 382.02 203.43 383.70 203.90 C385.38 204.37 386.55 204.45 388.00 205.30 C389.45 206.15 390.70 207.55 392.40 209.00 C394.10 210.45 395.80 212.80 398.20 214.00 C400.60 215.20 405.37 215.83 406.80 216.20" stroke="#00f" stroke-width="1.35"/><path d="M240.80 214.70 C241.93 214.53 245.52 213.57 247.60 213.70 C249.68 213.83 251.57 214.97 253.30 215.50 C255.03 216.03 256.32 215.95 258.00 216.90 C259.68 217.85 261.60 219.75 263.40 221.20 C265.20 222.65 267.53 224.78 268.80 225.60 C270.07 226.42 270.08 226.20 271.00 226.10 C271.92 226.00 273.40 225.18 274.30 225.00 C275.20 224.82 275.32 224.25 276.40 225.00 C277.48 225.75 279.35 228.27 280.80 229.50 C282.25 230.73 283.48 231.57 285.10 232.40 C286.72 233.23 288.68 234.07 290.50 234.50 C292.32 234.93 294.02 234.97 296.00 235.00 C297.98 235.03 299.73 234.80 302.40 234.70 C305.07 234.60 309.43 234.68 312.00 234.40 C314.57 234.12 316.03 233.75 317.80 233.00 C319.57 232.25 321.15 231.13 322.60 229.90 C324.05 228.67 325.30 227.13 326.50 225.60 C327.70 224.07 328.85 221.98 329.80 220.70 C330.75 219.42 331.38 217.90 332.20 217.90 C333.02 217.90 333.82 219.67 334.70 220.70 C335.58 221.73 336.47 223.62 337.50 224.10 C338.53 224.58 339.68 223.92 340.90 223.60 C342.12 223.28 343.52 222.20 344.80 222.20 C346.08 222.20 347.25 222.93 348.60 223.60 C349.95 224.27 351.47 225.40 352.90 226.20 C354.33 227.00 355.95 227.83 357.20 228.40 C358.45 228.97 358.52 229.92 360.40 229.60 C362.28 229.28 365.78 227.47 368.50 226.50 C371.22 225.53 374.28 223.50 376.70 223.80 C379.12 224.10 380.75 226.48 383.00 228.30 C385.25 230.12 387.63 232.73 390.20 234.70 C392.77 236.67 396.28 239.50 398.40 240.10 C400.52 240.70 401.50 238.90 402.90 238.30 C404.30 237.70 406.15 236.80 406.80 236.50" stroke="#00f" stroke-width="1.35"/><path d="M240.80 222.70 C241.68 222.65 244.25 222.28 246.10 222.40 C247.95 222.52 249.92 222.78 251.90 223.40 C253.88 224.02 256.27 225.28 258.00 226.10 C259.73 226.92 260.95 227.72 262.30 228.30 C263.65 228.88 265.02 229.52 266.10 229.60 C267.18 229.68 267.88 229.23 268.80 228.80 C269.72 228.37 270.68 226.73 271.60 227.00 C272.52 227.27 273.32 229.10 274.30 230.40 C275.28 231.70 276.42 233.43 277.50 234.80 C278.58 236.17 279.72 237.33 280.80 238.60 C281.88 239.87 282.80 240.85 284.00 242.40 C285.20 243.95 286.60 246.27 288.00 247.90 C289.40 249.53 291.07 251.08 292.40 252.20 C293.73 253.32 294.77 253.85 296.00 254.60 C297.23 255.35 298.73 256.20 299.80 256.70 C300.87 257.20 301.43 257.60 302.40 257.60 C303.37 257.60 304.35 257.42 305.60 256.70 C306.85 255.98 308.25 254.87 309.90 253.30 C311.55 251.73 313.87 249.18 315.50 247.30 C317.13 245.42 318.20 243.85 319.70 242.00 C321.20 240.15 322.90 238.13 324.50 236.20 C326.10 234.27 327.68 232.17 329.30 230.40 C330.92 228.63 332.83 226.77 334.20 225.60 C335.57 224.43 336.38 224.37 337.50 223.40 C338.62 222.43 339.53 221.20 340.90 219.80 C342.27 218.40 343.88 216.58 345.70 215.00 C347.52 213.42 350.07 211.60 351.80 210.30 C353.53 209.00 354.70 207.98 356.10 207.20 C357.50 206.42 358.50 205.55 360.20 205.60 C361.90 205.65 364.32 206.33 366.30 207.50 C368.28 208.67 370.17 211.03 372.10 212.60 C374.03 214.17 375.97 215.82 377.90 216.90 C379.83 217.98 381.77 218.50 383.70 219.10 C385.63 219.70 387.57 220.38 389.50 220.50 C391.43 220.62 393.62 220.15 395.30 219.80 C396.98 219.45 398.17 218.40 399.60 218.40 C401.03 218.40 402.70 219.32 403.90 219.80 C405.10 220.28 406.32 221.05 406.80 221.30" stroke="#00f" stroke-width="1.35"/><path d="M240.80 228.00 C241.45 228.30 243.08 228.67 244.70 229.80 C246.32 230.93 248.58 233.23 250.50 234.80 C252.42 236.37 254.52 238.30 256.20 239.20 C257.88 240.10 259.15 240.45 260.60 240.20 C262.05 239.95 263.58 238.60 264.90 237.70 C266.22 236.80 267.30 235.28 268.50 234.80 C269.70 234.32 270.53 234.43 272.10 234.80 C273.67 235.17 275.97 236.52 277.90 237.00 C279.83 237.48 281.53 237.72 283.70 237.70 C285.87 237.68 288.85 237.13 290.90 236.90 C292.95 236.67 294.08 236.43 296.00 236.30 C297.92 236.17 299.60 236.05 302.40 236.10 C305.20 236.15 309.62 236.23 312.80 236.60 C315.98 236.97 319.08 238.20 321.50 238.30 C323.92 238.40 325.62 237.75 327.30 237.20 C328.98 236.65 330.07 235.90 331.60 235.00 C333.13 234.10 335.17 232.17 336.50 231.80 C337.83 231.43 338.18 231.72 339.60 232.80 C341.02 233.88 342.88 236.43 345.00 238.30 C347.12 240.17 349.73 242.65 352.30 244.00 C354.87 245.35 357.10 246.22 360.40 246.40 C363.70 246.58 368.33 245.55 372.10 245.10 C375.87 244.65 379.68 244.00 383.00 243.70 C386.32 243.40 389.43 243.75 392.00 243.30 C394.57 242.85 396.58 241.08 398.40 241.00 C400.22 240.92 401.50 242.35 402.90 242.80 C404.30 243.25 406.15 243.55 406.80 243.70" stroke="#00f" stroke-width="1.35"/><path d="M240.80 261.20 C241.68 261.02 244.25 260.88 246.10 260.10 C247.95 259.32 249.97 257.82 251.90 256.50 C253.83 255.18 255.90 253.17 257.70 252.20 C259.50 251.23 261.02 250.70 262.70 250.70 C264.38 250.70 265.98 251.35 267.80 252.20 C269.62 253.05 271.67 254.83 273.60 255.80 C275.53 256.77 277.50 257.67 279.40 258.00 C281.30 258.33 283.08 257.92 285.00 257.80 C286.92 257.68 289.07 257.47 290.90 257.30 C292.73 257.13 294.08 256.67 296.00 256.80 C297.92 256.93 300.08 258.12 302.40 258.10 C304.72 258.08 307.68 256.88 309.90 256.70 C312.12 256.52 313.77 256.63 315.70 257.00 C317.63 257.37 319.82 258.35 321.50 258.90 C323.18 259.45 324.35 260.67 325.80 260.30 C327.25 259.93 328.52 257.50 330.20 256.70 C331.88 255.90 333.43 255.77 335.90 255.50 C338.37 255.23 341.97 254.97 345.00 255.10 C348.03 255.23 351.53 255.95 354.10 256.30 C356.67 256.65 357.40 257.05 360.40 257.20 C363.40 257.35 368.63 257.50 372.10 257.20 C375.57 256.90 378.48 256.20 381.20 255.40 C383.92 254.60 386.00 253.15 388.40 252.40 C390.80 251.65 392.53 250.90 395.60 250.90 C398.67 250.90 404.93 252.15 406.80 252.40" stroke="#00f" stroke-width="1.35"/><path d="M267.80 261.20 C268.77 260.90 271.67 259.82 273.60 259.40 C275.53 258.98 276.72 258.62 279.40 258.70 C282.08 258.78 287.02 259.87 289.70 259.90 C292.38 259.93 293.38 258.95 295.50 258.90 C297.62 258.85 299.65 259.37 302.40 259.60 C305.15 259.83 309.07 260.03 312.00 260.30 C314.93 260.57 318.67 261.05 320.00 261.20" stroke="#00f" stroke-width="1.35"/><path d="M340.00 261.20 C341.13 261.00 344.45 260.52 346.80 260.00 C349.15 259.48 351.83 258.42 354.10 258.10 C356.37 257.78 357.75 257.78 360.40 258.10 C363.05 258.42 367.13 259.53 370.00 260.00 C372.87 260.47 375.13 261.37 377.60 260.90 C380.07 260.43 382.40 258.27 384.80 257.20 C387.20 256.13 389.58 255.10 392.00 254.50 C394.42 253.90 396.83 253.60 399.30 253.60 C401.77 253.60 405.55 254.35 406.80 254.50" stroke="#00f" stroke-width="1.35"/><path d="M390.00 261.20 C391.23 260.68 395.25 258.77 397.40 258.10 C399.55 257.43 401.33 257.20 402.90 257.20 C404.47 257.20 406.15 257.95 406.80 258.10" stroke="#00f" stroke-width="1.35"/><path d="M240.80 144.40 C241.63 144.12 244.07 143.58 245.80 142.70 C247.53 141.82 249.22 140.68 251.20 139.10 C253.18 137.52 255.17 135.20 257.70 133.20 C260.23 131.20 263.52 128.63 266.40 127.10 C269.28 125.57 272.48 124.63 275.00 124.00 C277.52 123.37 279.33 123.18 281.50 123.30 C283.67 123.42 285.82 124.00 288.00 124.70 C290.18 125.40 292.60 126.73 294.60 127.50 C296.60 128.27 298.70 128.93 300.00 129.30 C301.30 129.67 301.13 129.92 302.40 129.70 C303.67 129.48 305.30 129.08 307.60 128.00 C309.90 126.92 313.80 124.40 316.20 123.20 C318.60 122.00 320.15 121.32 322.00 120.80 C323.85 120.28 325.20 119.73 327.30 120.10 C329.40 120.47 332.23 121.35 334.60 123.00 C336.97 124.65 339.50 127.27 341.50 130.00 C343.50 132.73 345.03 136.63 346.60 139.40 C348.17 142.17 349.47 144.18 350.90 146.60 C352.33 149.02 354.00 151.93 355.20 153.90 C356.40 155.87 357.22 157.32 358.10 158.40 C358.98 159.48 359.67 160.40 360.50 160.40 C361.33 160.40 362.05 159.62 363.10 158.40 C364.15 157.18 365.47 155.30 366.80 153.10 C368.13 150.90 369.53 147.97 371.10 145.20 C372.67 142.43 374.63 139.03 376.20 136.50 C377.77 133.97 379.45 131.70 380.50 130.00 C381.55 128.30 381.57 127.92 382.50 126.30 C383.43 124.68 384.70 122.40 386.10 120.30 C387.50 118.20 389.30 115.52 390.90 113.70 C392.50 111.88 394.08 110.52 395.70 109.40 C397.32 108.28 398.75 107.55 400.60 107.00 C402.45 106.45 405.77 106.25 406.80 106.10" stroke="#f00" stroke-width="2.2"/></g><path d="M240.70 17.40 H406.80" fill="none" stroke="#000" stroke-width="1.0" stroke-linecap="square"/><path d="M240.75 261.90 V16.90" fill="none" stroke="#1c0a0a" stroke-width="1.5" stroke-linecap="butt"/><path d="M406.90 17.40 V261.40" fill="none" stroke="#000" stroke-opacity="1.00" stroke-width="1.25" stroke-linecap="square"/><path d="M406.80 261.40 H240.70" fill="none" stroke="#000" stroke-opacity="0.62" stroke-width="1.05" stroke-linecap="square"/><line x1="240.70" y1="261.55" x2="244.60" y2="261.55" stroke="#000" stroke-width="0.85"/><line x1="406.80" y1="261.55" x2="403.40" y2="261.55" stroke="#000" stroke-opacity="0.7" stroke-width="0.85"/><line x1="240.70" y1="220.90" x2="244.60" y2="220.90" stroke="#000" stroke-width="0.85"/><line x1="406.80" y1="220.90" x2="403.40" y2="220.90" stroke="#000" stroke-opacity="0.7" stroke-width="0.85"/><line x1="240.70" y1="180.25" x2="244.60" y2="180.25" stroke="#000" stroke-width="0.85"/><line x1="406.80" y1="180.25" x2="403.40" y2="180.25" stroke="#000" stroke-opacity="0.7" stroke-width="0.85"/><line x1="240.70" y1="139.60" x2="244.60" y2="139.60" stroke="#000" stroke-width="0.85"/><line x1="406.80" y1="139.60" x2="403.40" y2="139.60" stroke="#000" stroke-opacity="0.7" stroke-width="0.85"/><line x1="240.70" y1="98.95" x2="244.60" y2="98.95" stroke="#000" stroke-width="0.85"/><line x1="406.80" y1="98.95" x2="403.40" y2="98.95" stroke="#000" stroke-opacity="0.7" stroke-width="0.85"/><line x1="240.70" y1="58.30" x2="244.60" y2="58.30" stroke="#000" stroke-width="0.85"/><line x1="406.80" y1="58.30" x2="403.40" y2="58.30" stroke="#000" stroke-opacity="0.7" stroke-width="0.85"/><line x1="240.70" y1="17.65" x2="244.60" y2="17.65" stroke="#000" stroke-width="0.85"/><line x1="406.80" y1="17.65" x2="403.40" y2="17.65" stroke="#000" stroke-opacity="0.7" stroke-width="0.85"/></svg>
<div id="lb"><div class="t" style="left:39.20px;top:252.86px;font-size:18.20px;transform:translateX(-100%);">-3</div><div class="t" style="left:39.20px;top:212.21px;font-size:18.20px;transform:translateX(-100%);">-2</div><div class="t" style="left:39.20px;top:171.56px;font-size:18.20px;transform:translateX(-100%);">-1</div><div class="t" style="left:39.20px;top:130.91px;font-size:18.20px;transform:translateX(-100%);">0</div><div class="t" style="left:39.20px;top:90.26px;font-size:18.20px;transform:translateX(-100%);">1</div><div class="t" style="left:39.20px;top:49.61px;font-size:18.20px;transform:translateX(-100%);">2</div><div class="t" style="left:39.20px;top:8.96px;font-size:18.20px;transform:translateX(-100%);">3</div><div class="t" style="left:50.30px;top:261.66px;font-size:18.20px;transform:translateX(-50%);">P</div><div class="t" style="left:111.60px;top:261.66px;font-size:18.20px;transform:translateX(-50%);">&Gamma;</div><div class="t" style="left:169.50px;top:261.66px;font-size:18.20px;transform:translateX(-50%);">X</div><div class="t" style="left:216.20px;top:261.66px;font-size:18.20px;transform:translateX(-50%);">N</div><div class="t" style="left:241.20px;top:261.66px;font-size:18.20px;transform:translateX(-50%);">P</div><div class="t" style="left:302.40px;top:261.66px;font-size:18.20px;transform:translateX(-50%);">&Gamma;</div><div class="t" style="left:360.40px;top:261.66px;font-size:18.20px;transform:translateX(-50%);">X</div><div class="t" style="left:407.10px;top:261.66px;font-size:18.20px;transform:translateX(-50%);">N</div><div class="t" style="left:221.30px;top:129.26px;font-size:18.20px;transform:none;">E</div><div class="t" style="left:231.20px;top:138.14px;font-size:13.20px;transform:none;">F</div><div class="t" style="left:16.2px;top:139.5px;font-size:18.00px;transform:translate(-50%,-50%) rotate(-90deg);">Energy (eV)</div></div>
</body></html>
